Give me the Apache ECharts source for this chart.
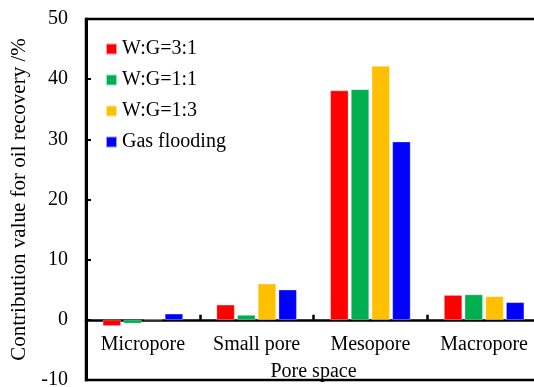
<!DOCTYPE html>
<html><head><meta charset="utf-8">
<script src="https://cdn.jsdelivr.net/npm/echarts@6/dist/echarts.min.js"></script>
<style>html,body{margin:0;padding:0;background:#fff}#c{width:534px;height:387px}</style>
</head><body><div id="c"></div>
<script>
const categories = ['Micropore', 'Small pore', 'Mesopore', 'Macropore'];
const seriesNames = ['W:G=3:1', 'W:G=1:1', 'W:G=1:3', 'Gas flooding'];
const wg31 = [-1.0, 2.5, 38.1, 4.1];
const wg11 = [-0.6, 0.8, 38.3, 4.2];
const wg13 = [0.0, 6.0, 42.2, 3.9];
const gasFlooding = [1.0, 5.0, 29.6, 2.9];
const colors = ['#FF0000', '#00B050', '#FFC000', '#0000FF'];
const yTicks = [-10, 0, 10, 20, 30, 40, 50];

const font = '"Liberation Serif", "Times New Roman", serif';
const chart = echarts.init(document.getElementById('c'));
const all = [wg31, wg11, wg13, gasFlooding];
chart.setOption({
  animation: false,
  textStyle: {fontFamily: font, color: '#000'},
  grid: {left: 86, top: 19, width: 455, height: 361, show: true, borderColor: '#000', borderWidth: 2.5,
         containLabel: false, outerBoundsMode: 'none'},
  legend: {
    orient: 'vertical', left: 100, top: 34, itemWidth: 11, itemHeight: 11, itemGap: 11,
    icon: 'rect',
    textStyle: {fontFamily: font, fontSize: 20, color: '#000'},
    data: seriesNames
  },
  xAxis: {
    type: 'category', data: categories,
    name: 'Pore space', nameLocation: 'middle', nameGap: -18,
    nameTextStyle: {fontFamily: font, fontSize: 20, color: '#000'},
    nameMoveOverlap: false,
    axisLine: {onZero: true, lineStyle: {color: '#000', width: 2.5}},
    axisTick: {show: true, inside: true, length: 5, interval: 0, lineStyle: {color: '#000', width: 2.5}},
    axisLabel: {show: true, interval: 0, hideOverlap: false, fontFamily: font, fontSize: 20, color: '#000', margin: -45}
  },
  yAxis: {
    type: 'value', min: yTicks[0], max: yTicks[yTicks.length - 1], interval: 10,
    name: 'Contribution value for oil recovery /%', nameLocation: 'middle', nameGap: 55,
    nameTextStyle: {fontFamily: font, fontSize: 21, color: '#000'},
    axisLine: {show: true, lineStyle: {color: '#000', width: 3}},
    axisTick: {show: true, inside: true, length: 5, lineStyle: {color: '#000', width: 2}},
    axisLabel: {fontFamily: font, fontSize: 20, color: '#000', margin: 18},
    splitLine: {show: false}
  },
  series: seriesNames.map((n, i) => ({
    name: n, type: 'bar', data: all[i],
    barWidth: 18, barGap: '15%',
    itemStyle: {color: colors[i], borderColor: 'rgba(255,255,255,0.6)', borderWidth: 0.5}
  }))
});
</script></body></html>
